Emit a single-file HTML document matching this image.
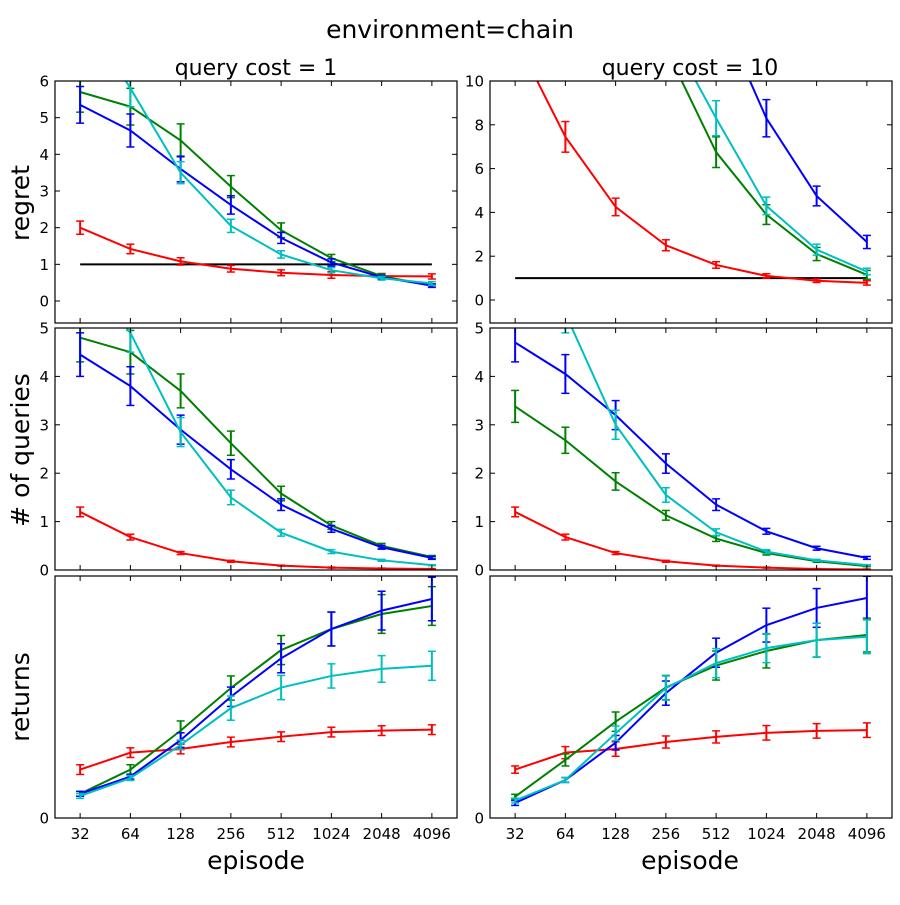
<!DOCTYPE html>
<html><head><meta charset="utf-8"><style>
html,body{margin:0;padding:0;background:#fff;}
svg text{font-family:"DejaVu Sans","Liberation Sans",sans-serif;}
</style></head><body>
<svg id="fig" width="900" height="900" viewBox="0 0 900 900" xmlns="http://www.w3.org/2000/svg">
<rect width="900" height="900" fill="#fff"/>
<text x="450" y="38" font-size="25" text-anchor="middle">environment=chain</text>
<text x="256" y="75" font-size="22" text-anchor="middle">query cost = 1</text>
<text x="690" y="75" font-size="22" text-anchor="middle">query cost = 10</text>
<text transform="translate(29,203) rotate(-90)" font-size="25" text-anchor="middle">regret</text>
<text transform="translate(29,450) rotate(-90)" font-size="25" text-anchor="middle"># of queries</text>
<text transform="translate(29,697) rotate(-90)" font-size="25" text-anchor="middle">returns</text>
<text x="256" y="869" font-size="25" text-anchor="middle">episode</text>
<text x="690" y="869" font-size="25" text-anchor="middle">episode</text>
</svg>
<script>
const episodes = [32,64,128,256,512,1024,2048,4096];
const xTickLabels = ["32","64","128","256","512","1024","2048","4096"];
const seriesColors = ["#ff0000","#008000","#0000ff","#00bfbf"];

const regret1Red = [2.0,1.42,1.08,0.88,0.77,0.71,0.68,0.67];
const regret1Green = [5.7,5.3,4.38,3.12,1.93,1.17,0.68,0.42];
const regret1Blue = [5.35,4.65,3.6,2.62,1.72,1.05,0.65,0.42];
const regret1Cyan = [8.0,5.8,3.5,2.05,1.27,0.84,0.62,0.48];
const regret1Err = [[0.18,0.13,0.1,0.09,0.08,0.09,0.07,0.07],[0.55,0.5,0.45,0.3,0.2,0.1,0.06,0.05],[0.5,0.45,0.35,0.25,0.15,0.1,0.05,0.04],[0.6,0.5,0.3,0.18,0.1,0.07,0.05,0.05]];
const regret10Red = [12,7.45,4.25,2.5,1.6,1.1,0.88,0.78];
const regret10Green = [20,16,12.5,11.5,6.75,3.9,2.1,1.15];
const regret10Blue = [25,20,17,14.5,13.5,8.3,4.75,2.65];
const regret10Cyan = [22,18,14.5,12.5,8.3,4.3,2.3,1.3];
const regret10Err = [[0.8,0.7,0.4,0.25,0.15,0.1,0.08,0.1],[1,1,1,1,0.7,0.45,0.3,0.2],[1,1,1,1,1,0.85,0.45,0.3],[1,1,1,1,0.8,0.4,0.25,0.15]];
const queries1Red = [1.2,0.68,0.35,0.18,0.09,0.05,0.03,0.02];
const queries1Green = [4.8,4.5,3.7,2.62,1.58,0.92,0.5,0.27];
const queries1Blue = [4.45,3.8,2.9,2.08,1.35,0.85,0.47,0.25];
const queries1Cyan = [6.2,4.9,2.85,1.5,0.77,0.38,0.2,0.1];
const queries1Err = [[0.1,0.06,0.03,0.02,0.01,0.01,0.01,0.01],[0.5,0.45,0.35,0.25,0.15,0.08,0.05,0.03],[0.45,0.4,0.3,0.2,0.12,0.07,0.04,0.03],[0.5,0.4,0.3,0.15,0.07,0.04,0.02,0.01]];
const queries10Red = [1.2,0.68,0.35,0.18,0.09,0.05,0.02,0.01];
const queries10Green = [3.38,2.68,1.83,1.13,0.65,0.35,0.18,0.08];
const queries10Blue = [4.7,4.05,3.2,2.2,1.35,0.8,0.45,0.25];
const queries10Cyan = [7.0,5.3,3.0,1.55,0.78,0.38,0.2,0.1];
const queries10Err = [[0.1,0.06,0.03,0.02,0.01,0.01,0.01,0.01],[0.33,0.27,0.18,0.1,0.06,0.04,0.02,0.01],[0.4,0.4,0.3,0.2,0.12,0.06,0.04,0.03],[0.5,0.4,0.3,0.15,0.07,0.04,0.02,0.01]];
const returns1Red = [0.2,0.27,0.285,0.314,0.336,0.355,0.361,0.365];
const returns1Green = [0.1,0.2,0.361,0.537,0.694,0.781,0.843,0.876];
const returns1Blue = [0.1,0.171,0.322,0.501,0.66,0.781,0.857,0.905];
const returns1Cyan = [0.091,0.165,0.302,0.454,0.539,0.587,0.616,0.629];
const returns1Err = [[0.02,0.02,0.02,0.02,0.02,0.02,0.02,0.02],[0.01,0.02,0.04,0.05,0.06,0.07,0.08,0.08],[0.01,0.01,0.03,0.04,0.06,0.07,0.08,0.09],[0.01,0.01,0.02,0.05,0.05,0.05,0.055,0.06]];
const returns10Red = [0.2,0.27,0.285,0.314,0.335,0.352,0.36,0.363];
const returns10Green = [0.088,0.24,0.398,0.539,0.63,0.69,0.735,0.756];
const returns10Blue = [0.062,0.157,0.311,0.516,0.683,0.797,0.868,0.909];
const returns10Cyan = [0.072,0.157,0.35,0.537,0.64,0.702,0.735,0.749];
const returns10Err = [[0.015,0.025,0.03,0.025,0.025,0.03,0.03,0.03],[0.01,0.025,0.04,0.05,0.06,0.07,0.07,0.07],[0.01,0.01,0.03,0.05,0.06,0.07,0.08,0.09],[0.01,0.01,0.03,0.05,0.06,0.06,0.07,0.07]];

const regretTicks1 = ["0","1","2","3","4","5","6"];
const regretTicks10 = ["0","2","4","6","8","10"];
const queryTicks = ["0","1","2","3","4","5"];
const returnTicks = ["0"];
const baseline = 1;

const NS="http://www.w3.org/2000/svg";
const svg=document.getElementById('fig');
function mk(tag,attrs,parent){const e=document.createElementNS(NS,tag);for(const k in attrs)e.setAttribute(k,attrs[k]);(parent||svg).appendChild(e);return e;}

const cols=[{x0:55,x1:457},{x0:490,x1:892}];
const rows=[{y0:81,y1:323},{y0:328,y1:570},{y0:576,y1:818}];

const panels=[
 {r:0,c:0,ymin:-0.6,ymax:6,series:[regret1Red,regret1Green,regret1Blue,regret1Cyan],err:regret1Err,ticks:regretTicks1,base:true,name:'regret-cost-1'},
 {r:0,c:1,ymin:-1.05,ymax:10,series:[regret10Red,regret10Green,regret10Blue,regret10Cyan],err:regret10Err,ticks:regretTicks10,base:true,name:'regret-cost-10'},
 {r:1,c:0,ymin:0,ymax:5,series:[queries1Red,queries1Green,queries1Blue,queries1Cyan],err:queries1Err,ticks:queryTicks,name:'queries-cost-1'},
 {r:1,c:1,ymin:0,ymax:5,series:[queries10Red,queries10Green,queries10Blue,queries10Cyan],err:queries10Err,ticks:queryTicks,name:'queries-cost-10'},
 {r:2,c:0,ymin:0,ymax:1,series:[returns1Red,returns1Green,returns1Blue,returns1Cyan],err:returns1Err,ticks:returnTicks,xl:true,name:'returns-cost-1'},
 {r:2,c:1,ymin:0,ymax:1,series:[returns10Red,returns10Green,returns10Blue,returns10Cyan],err:returns10Err,ticks:returnTicks,xl:true,name:'returns-cost-10'}
];
const names=['red','green','blue','cyan'];

panels.forEach((p,pi)=>{
 const C=cols[p.c],R=rows[p.r];
 const xs=v=>C.x0+(Math.log2(v)-4.5)/8*(C.x1-C.x0);
 const ys=v=>R.y1-(v-p.ymin)/(p.ymax-p.ymin)*(R.y1-R.y0);
 const g=mk('g',{});
 
 
 const cp=mk('clipPath',{id:'cp'+pi},g);
 mk('rect',{x:C.x0,y:R.y0,width:C.x1-C.x0,height:R.y1-R.y0},cp);
 const plot=mk('g',{'clip-path':'url(#cp'+pi+')'},g);
 if(p.base){
  const bl=mk('line',{x1:xs(episodes[0]),x2:xs(episodes[7]),y1:ys(baseline),y2:ys(baseline),stroke:'#000','stroke-width':2},plot);
  
  
 }
 p.series.forEach((s,si)=>{
  const col=seriesColors[si];
  const sg=mk('g',{},plot);
  
  
  s.forEach((v,i)=>{
   const e=p.err[si][i],x=xs(episodes[i]);
   mk('line',{x1:x,x2:x,y1:ys(v-e),y2:ys(v+e),stroke:col,'stroke-width':2},sg);
   mk('line',{x1:x-4,x2:x+4,y1:ys(v-e),y2:ys(v-e),stroke:col,'stroke-width':1.5},sg);
   mk('line',{x1:x-4,x2:x+4,y1:ys(v+e),y2:ys(v+e),stroke:col,'stroke-width':1.5},sg);
  });
  mk('polyline',{points:s.map((v,i)=>xs(episodes[i])+','+ys(v)).join(' '),fill:'none',stroke:col,'stroke-width':2},sg);
 });
 episodes.forEach((ep,i)=>{
  const x=xs(ep);
  mk('line',{x1:x,x2:x,y1:R.y1,y2:R.y1-5,stroke:'#000'},g);
  mk('line',{x1:x,x2:x,y1:R.y0,y2:R.y0+5,stroke:'#000'},g);
  if(p.xl){const t=mk('text',{x:x,y:R.y1+21,'font-size':15,'text-anchor':'middle'},g);t.textContent=xTickLabels[i];
   }
 });
 p.ticks.forEach(lbl=>{
  const y=ys(parseFloat(lbl));
  mk('line',{x1:C.x0,x2:C.x0+5,y1:y,y2:y,stroke:'#000'},g);
  mk('line',{x1:C.x1,x2:C.x1-5,y1:y,y2:y,stroke:'#000'},g);
  const t=mk('text',{x:C.x0-6,y:y+5.5,'font-size':15,'text-anchor':'end'},g);t.textContent=lbl;
  
 });
 mk('rect',{x:C.x0,y:R.y0,width:C.x1-C.x0,height:R.y1-R.y0,fill:'none',stroke:'#000','stroke-width':1.2},g);
});
</script>
</body></html>
